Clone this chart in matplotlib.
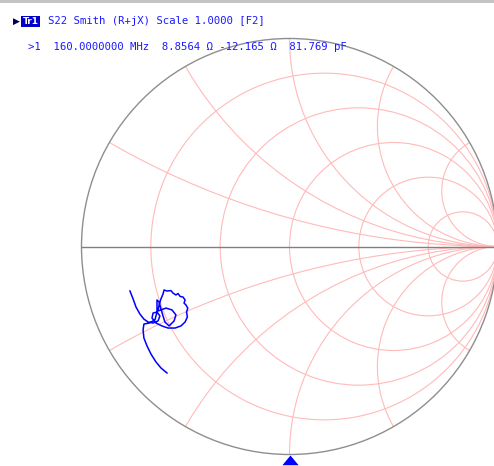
import numpy as np
import matplotlib
matplotlib.use('Agg')
import matplotlib.pyplot as plt
from matplotlib.patches import Circle, Rectangle

W, H, DPI = 494, 466, 100
CX, CY, RAD = 289.5, 246.5, 208.0   # chart centre / radius in pixels

# Smith grid values
r_values = [0.2, 0.5, 1.0, 2.0, 5.0]
x_values = [0.268, 0.577, 1.0, 1.732, 3.732]

trace_re = [-0.767, -0.752, -0.738, -0.719, -0.700, -0.680, -0.656, -0.632,
            -0.623, -0.637, -0.656, -0.661, -0.642, -0.613, -0.584,
            -0.550, -0.522, -0.502, -0.491, -0.495, -0.489, -0.498, -0.507,
            -0.502, -0.512, -0.526, -0.536, -0.546, -0.560, -0.570, -0.589,
            -0.603, -0.608, -0.618, -0.627, -0.632,
            -0.618, -0.594, -0.565, -0.546, -0.555, -0.579, -0.599, -0.608,
            -0.618, -0.627, -0.637, -0.637, -0.647, -0.675, -0.700,
            -0.704, -0.700, -0.685, -0.666, -0.642, -0.618, -0.589]
trace_im = [-0.214, -0.252, -0.291, -0.325, -0.349, -0.363, -0.368, -0.358,
            -0.334, -0.315, -0.320, -0.344, -0.368, -0.382, -0.392,
            -0.392, -0.382, -0.363, -0.339, -0.315, -0.296, -0.281, -0.272,
            -0.257, -0.243, -0.240, -0.226, -0.233, -0.224, -0.212, -0.214,
            -0.209, -0.228, -0.252, -0.281, -0.310,
            -0.305, -0.296, -0.305, -0.329, -0.358, -0.382, -0.363, -0.334,
            -0.300, -0.267, -0.257, -0.315, -0.353, -0.368, -0.373,
            -0.401, -0.440, -0.478, -0.517, -0.555, -0.584, -0.608]

marker_re, marker_im = 0.0, -1.0

title_text = "S22 Smith (R+jX) Scale 1.0000 [F2]"
marker_text = ">1  160.0000000 MHz  8.8564 \u03a9 -12.165 \u03a9  81.769 pF"

fig = plt.figure(figsize=(W / DPI, H / DPI), dpi=DPI)
fig.patch.set_facecolor('white')
ax = fig.add_axes([0, 0, 1, 1])
ax.set_xlim(-CX / RAD, (W - CX) / RAD)
ax.set_ylim(-(H - CY) / RAD, CY / RAD)
ax.axis('off')

grid_col = '#ffbaba'
outer = Circle((0, 0), 1.0, fill=False, ec='#8e8e8e', lw=1.0, zorder=3)
clipc = Circle((0, 0), 1.0, transform=ax.transData, fill=False)
ax.add_patch(clipc)
clipc.set_visible(False)

for r in r_values:
    c = Circle((r / (r + 1), 0), 1 / (r + 1), fill=False, ec=grid_col, lw=0.8, zorder=1)
    ax.add_patch(c)
    c.set_clip_path(clipc)
for xv in x_values:
    for s in (1, -1):
        c = Circle((1, s / xv), 1 / xv, fill=False, ec=grid_col, lw=0.8, zorder=1)
        ax.add_patch(c)
        c.set_clip_path(clipc)

ax.add_patch(outer)
ax.plot([-1, 1], [0, 0], color='#808080', lw=1.0, zorder=3)

ax.plot(trace_re, trace_im, color='#0000ff', lw=1.1, zorder=5)

tri = [(0, 0), (-1, -1.2), (1, -1.2)]
ax.plot([marker_re], [marker_im], marker=tri, ms=14, color='#0000ff',
        mec='none', zorder=6, clip_on=False)

# top grey strip
fig.add_artist(Rectangle((0, 1 - 3 / H), 1, 3 / H, transform=fig.transFigure,
                         color='#c4c4c4', lw=0))

fs = 7.65
fig.text(13 / W, 1 - 21.5 / H, '\u25b6', family='DejaVu Sans', fontsize=6.5,
         color='#000050', va='center', ha='left')
fig.text(22.5 / W, 1 - 21.5 / H, 'Tr1', family='DejaVu Sans', fontsize=6.5,
         fontweight='bold', color='white', va='center', ha='left',
         bbox=dict(boxstyle='square,pad=0.15', fc='#0000c8', ec='none'))
fig.text(48 / W, 1 - 21 / H, title_text, family='DejaVu Sans Mono', fontsize=fs,
         color='#1a1aff', va='center', ha='left')
fig.text(28 / W, 1 - 47.5 / H, marker_text, family='DejaVu Sans Mono', fontsize=fs,
         color='#1a1aff', va='center', ha='left')

fig.savefig('out.png', dpi=DPI, facecolor='white')
